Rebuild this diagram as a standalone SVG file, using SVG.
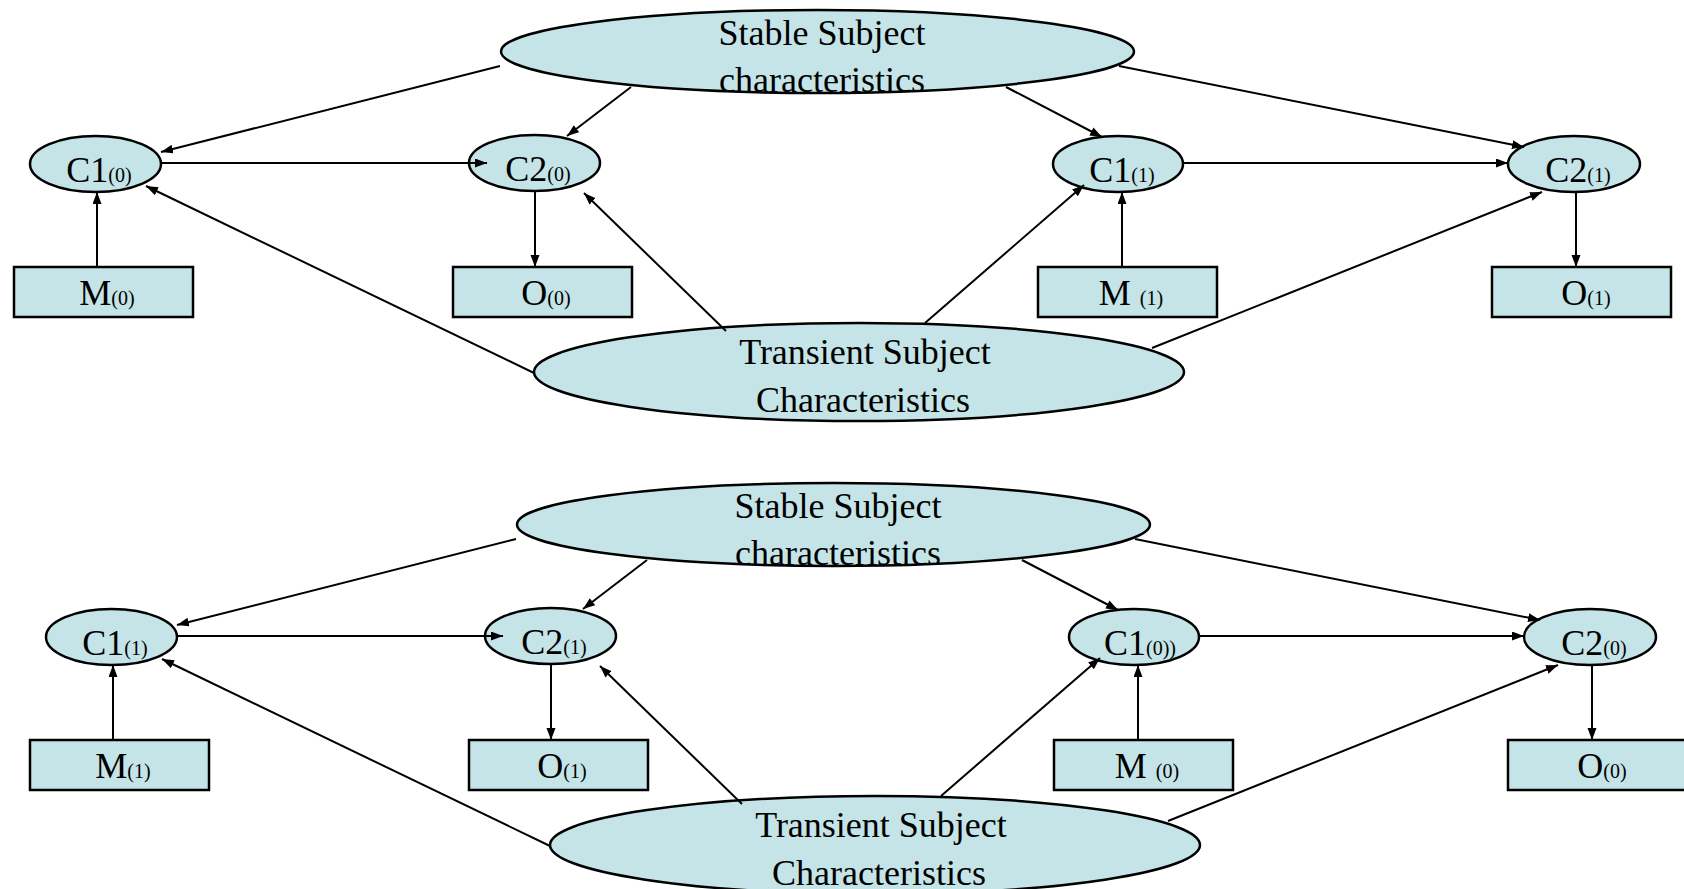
<svg xmlns="http://www.w3.org/2000/svg" width="1684" height="889" viewBox="0 0 1684 889">
<defs>
<marker id="ah" markerUnits="userSpaceOnUse" markerWidth="13" markerHeight="10" refX="12" refY="4.5" orient="auto">
<path d="M0,0 L12,4.5 L0,9 z" fill="#000"/>
</marker>
<style>
.n{fill:#C4E4E7;stroke:#000;stroke-width:2.5}
.t{font-family:"Liberation Serif","Times New Roman",serif;font-size:36px;fill:#000;text-anchor:middle}
.s{font-size:20px}
.c line{stroke:#000;stroke-width:2;marker-end:url(#ah)}
</style>
</defs>
<rect x="0" y="0" width="1684" height="889" fill="#fff"/>
<g id="top">
<g id="stable-top"><ellipse class="n" cx="817.5" cy="51.5" rx="316.5" ry="41.5"/>
<text class="t" x="822" y="45">Stable Subject</text><text class="t" x="822" y="92">characteristics</text></g>
<g id="transient-top"><ellipse class="n" cx="859" cy="372" rx="325" ry="49"/>
<text class="t" x="865" y="364">Transient Subject</text><text class="t" x="863" y="412">Characteristics</text></g>
<g id="c1-0-top"><ellipse class="n" cx="95.5" cy="164" rx="65.5" ry="28"/><text class="t" x="99" y="182">C1<tspan class="s">(0)</tspan></text></g>
<g id="c2-0-top"><ellipse class="n" cx="534.5" cy="163" rx="65.5" ry="28"/><text class="t" x="538" y="181">C2<tspan class="s">(0)</tspan></text></g>
<g id="m-0-top"><rect class="n" x="14" y="267" width="179" height="50"/><text class="t" x="107" y="305">M<tspan class="s">(0)</tspan></text></g>
<g id="o-0-top"><rect class="n" x="453" y="267" width="179" height="50"/><text class="t" x="546" y="305">O<tspan class="s">(0)</tspan></text></g>
<g id="c1-1-top"><ellipse class="n" cx="1118" cy="164" rx="65" ry="28"/><text class="t" x="1122" y="182">C1<tspan class="s">(1)</tspan></text></g>
<g id="c2-1-top"><ellipse class="n" cx="1574" cy="164" rx="66" ry="28"/><text class="t" x="1578" y="182">C2<tspan class="s">(1)</tspan></text></g>
<g id="m-1-top"><rect class="n" x="1038" y="267" width="179" height="50"/><text class="t" x="1131" y="305">M <tspan class="s">(1)</tspan></text></g>
<g id="o-1-top"><rect class="n" x="1492" y="267" width="179" height="50"/><text class="t" x="1586" y="305">O<tspan class="s">(1)</tspan></text></g>
<g class="c" id="connectors-top">
<line x1="500" y1="66" x2="161" y2="152"/>
<line x1="631" y1="87" x2="567" y2="136"/>
<line x1="161" y1="163" x2="487" y2="163"/>
<line x1="97" y1="267" x2="97" y2="192"/>
<line x1="535" y1="192" x2="535" y2="267"/>
<line x1="534" y1="373" x2="146" y2="186"/>
<line x1="726" y1="331" x2="584" y2="193"/>
<line x1="925" y1="323" x2="1084" y2="185"/>
<line x1="1152" y1="348" x2="1542" y2="192"/>
<line x1="1006" y1="87" x2="1102" y2="137"/>
<line x1="1119" y1="66" x2="1524" y2="147"/>
<line x1="1183" y1="163" x2="1508" y2="163"/>
<line x1="1122" y1="267" x2="1122" y2="192"/>
<line x1="1576" y1="192" x2="1576" y2="267"/>
</g>
</g>
<g id="bottom" transform="translate(16,473)">
<g id="stable-bottom"><ellipse class="n" cx="817.5" cy="51.5" rx="316.5" ry="41.5"/>
<text class="t" x="822" y="45">Stable Subject</text><text class="t" x="822" y="92">characteristics</text></g>
<g id="transient-bottom"><ellipse class="n" cx="859" cy="372" rx="325" ry="49"/>
<text class="t" x="865" y="364">Transient Subject</text><text class="t" x="863" y="412">Characteristics</text></g>
<g id="c1-1-bottom"><ellipse class="n" cx="95.5" cy="164" rx="65.5" ry="28"/><text class="t" x="99" y="182">C1<tspan class="s">(1)</tspan></text></g>
<g id="c2-1-bottom"><ellipse class="n" cx="534.5" cy="163" rx="65.5" ry="28"/><text class="t" x="538" y="181">C2<tspan class="s">(1)</tspan></text></g>
<g id="m-1-bottom"><rect class="n" x="14" y="267" width="179" height="50"/><text class="t" x="107" y="305">M<tspan class="s">(1)</tspan></text></g>
<g id="o-1-bottom"><rect class="n" x="453" y="267" width="179" height="50"/><text class="t" x="546" y="305">O<tspan class="s">(1)</tspan></text></g>
<g id="c1-0-bottom"><ellipse class="n" cx="1118" cy="164" rx="65" ry="28"/><text class="t" x="1124" y="182">C1<tspan class="s">(0))</tspan></text></g>
<g id="c2-0-bottom"><ellipse class="n" cx="1574" cy="164" rx="66" ry="28"/><text class="t" x="1578" y="182">C2<tspan class="s">(0)</tspan></text></g>
<g id="m-0-bottom"><rect class="n" x="1038" y="267" width="179" height="50"/><text class="t" x="1131" y="305">M <tspan class="s">(0)</tspan></text></g>
<g id="o-0-bottom"><rect class="n" x="1492" y="267" width="179" height="50"/><text class="t" x="1586" y="305">O<tspan class="s">(0)</tspan></text></g>
<g class="c" id="connectors-bottom">
<line x1="500" y1="66" x2="161" y2="152"/>
<line x1="631" y1="87" x2="567" y2="136"/>
<line x1="161" y1="163" x2="487" y2="163"/>
<line x1="97" y1="267" x2="97" y2="192"/>
<line x1="535" y1="192" x2="535" y2="267"/>
<line x1="534" y1="373" x2="146" y2="186"/>
<line x1="726" y1="331" x2="584" y2="193"/>
<line x1="925" y1="323" x2="1084" y2="185"/>
<line x1="1152" y1="348" x2="1542" y2="192"/>
<line x1="1006" y1="87" x2="1102" y2="137"/>
<line x1="1119" y1="66" x2="1524" y2="147"/>
<line x1="1183" y1="163" x2="1508" y2="163"/>
<line x1="1122" y1="267" x2="1122" y2="192"/>
<line x1="1576" y1="192" x2="1576" y2="267"/>
</g>
</g>
</svg>
